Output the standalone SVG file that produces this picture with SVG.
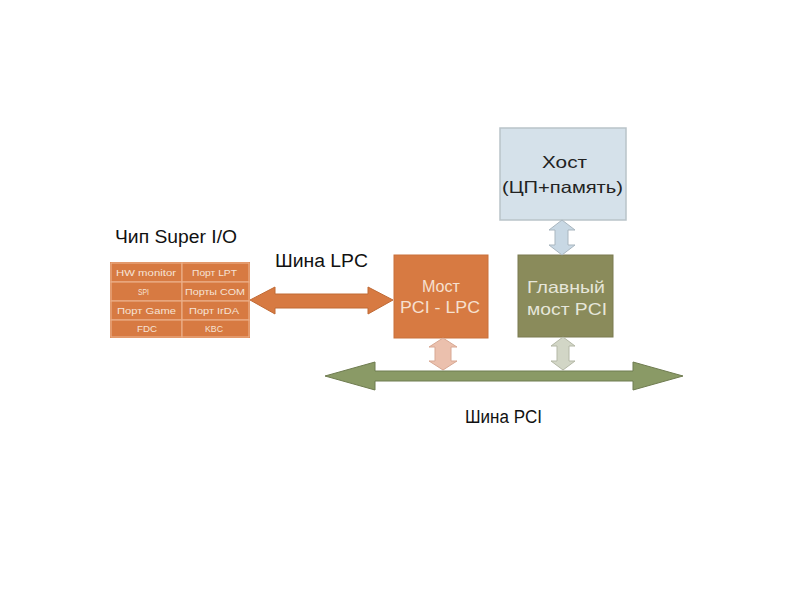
<svg xmlns="http://www.w3.org/2000/svg" width="800" height="600" viewBox="0 0 800 600">
<style>
text{font-family:"Liberation Sans","DejaVu Sans",sans-serif;}
.lbl{font-size:18px;fill:#111;}
.cell{fill:#D77A42;stroke:#EBAE88;stroke-width:1.2;}
.ct{font-size:9px;fill:#F6E3D6;}
.bt{font-size:16.5px;}
</style>
<rect width="800" height="600" fill="#fff"/>
<g id="superio">
<text class="lbl" x="115" y="243" textLength="122" lengthAdjust="spacingAndGlyphs">Чип Super I/O</text>
<rect x="110" y="262" width="140" height="76" fill="#D77A42"/>
<rect class="cell" x="111" y="263" width="71" height="19"/>
<rect class="cell" x="182" y="263" width="67" height="19"/>
<rect class="cell" x="111" y="282" width="71" height="19"/>
<rect class="cell" x="182" y="282" width="67" height="19"/>
<rect class="cell" x="111" y="301" width="71" height="19"/>
<rect class="cell" x="182" y="301" width="67" height="19"/>
<rect class="cell" x="111" y="320" width="71" height="17"/>
<rect class="cell" x="182" y="320" width="67" height="17"/>
<text class="ct" x="116" y="275.5" textLength="60" lengthAdjust="spacingAndGlyphs">HW monitor</text>
<text class="ct" x="192" y="275.5" textLength="45" lengthAdjust="spacingAndGlyphs">Порт LPT</text>
<text class="ct" x="138" y="294.5" textLength="11" lengthAdjust="spacingAndGlyphs">SPI</text>
<text class="ct" x="185" y="294.5" textLength="60" lengthAdjust="spacingAndGlyphs">Порты COM</text>
<text class="ct" x="117" y="313.5" textLength="59" lengthAdjust="spacingAndGlyphs">Порт Game</text>
<text class="ct" x="189" y="313.5" textLength="50" lengthAdjust="spacingAndGlyphs">Порт IrDA</text>
<text class="ct" x="137" y="332" textLength="20" lengthAdjust="spacingAndGlyphs">FDC</text>
<text class="ct" x="205" y="332" textLength="18" lengthAdjust="spacingAndGlyphs">KBC</text>
</g>
<g id="host">
<rect x="500" y="128" width="126" height="92" fill="#D5E1EA" stroke="#B9C3C9" stroke-width="1.5"/>
<text class="bt" x="542" y="168" fill="#222" font-size="17" textLength="45" lengthAdjust="spacingAndGlyphs">Хост</text>
<text class="bt" x="502" y="193" fill="#222" font-size="17" textLength="121" lengthAdjust="spacingAndGlyphs">(ЦП+память)</text>
</g>
<g id="lpcbridge">
<rect x="394" y="255" width="94" height="83" fill="#D77A42" stroke="#C9703A" stroke-width="1"/>
<text class="bt" x="422" y="292" fill="#F6E0D0" textLength="38" lengthAdjust="spacingAndGlyphs">Мост</text>
<text class="bt" x="400" y="313" fill="#F6E0D0" textLength="80" lengthAdjust="spacingAndGlyphs">PCI - LPC</text>
</g>
<g id="mainbridge">
<rect x="518" y="255" width="95" height="82" fill="#8A8B5B" stroke="#7A7B50" stroke-width="1"/>
<text class="bt" x="527" y="293" fill="#E6E6DA" textLength="78" lengthAdjust="spacingAndGlyphs">Главный</text>
<text class="bt" x="527" y="315" fill="#E6E6DA" textLength="80" lengthAdjust="spacingAndGlyphs">мост PCI</text>
</g>
<g id="connectors">
<text class="lbl" x="275" y="267" textLength="93" lengthAdjust="spacingAndGlyphs">Шина LPC</text>
<polygon points="250,300 275,287 275,294 368,294 368,287 393,300 368,314 368,308 275,308 275,314" fill="#D77A42" stroke="#C06A35" stroke-width="1"/>
<polygon points="562,220 575,230 568,230 568,245 575,245 562,255 549,245 555,245 555,230 549,230" fill="#C8D8E4" stroke="#A9B6BF" stroke-width="1"/>
<polygon points="443,338 457,347 451,347 451,361 457,361 443,370 429,361 435,361 435,347 429,347" fill="#EBC0AD" stroke="#D8A893" stroke-width="1"/>
<polygon points="563,337 575,346 569,346 569,361 575,361 563,370 551,361 557,361 557,346 551,346" fill="#D2D6C6" stroke="#B4B8A6" stroke-width="1"/>
<polygon points="325,376 375,362 375,371 633,371 633,362 683,376 633,390 633,381 375,381 375,390" fill="#8A9A66" stroke="#6F7C50" stroke-width="1"/>
<text class="lbl" x="465" y="423" textLength="77" lengthAdjust="spacingAndGlyphs">Шина PCI</text>
</g>
</svg>
